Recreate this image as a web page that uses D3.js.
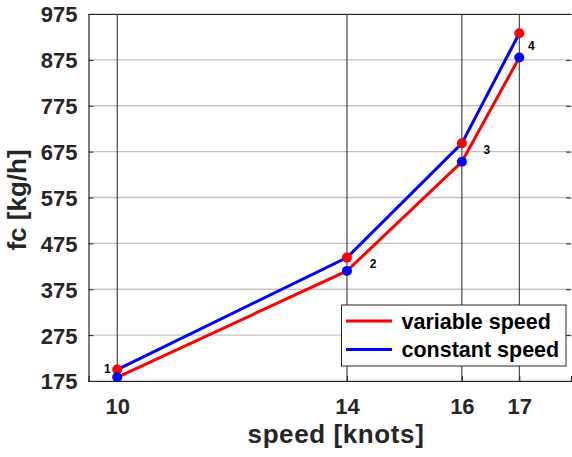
<!DOCTYPE html>
<html><head><meta charset="utf-8">
<script src="https://cdn.jsdelivr.net/npm/d3@7"></script>
<style>body{margin:0;background:#fff}svg{display:block}</style>
</head><body>
<script>
const speeds = [10, 14, 16, 17];
const xTicks = [10, 14, 16, 17];
const yTicks = [175, 275, 375, 475, 575, 675, 775, 875, 975];
// line values
const variableSpeed = [183, 415, 653, 880];
const constantSpeed = [200, 444, 693, 933];
// marker values
const redMarkers = [200, 444, 693, 933];
const blueMarkers = [183, 415, 653, 880];
const pointLabels = ["1", "2", "3", "4"];

const W = 572, H = 457;
const m = {l: 88.5, t: 14, r: 571, b: 381};
const svg = d3.select("body").append("svg").attr("width", W).attr("height", H);
const x = d3.scaleLinear().domain([9.5, 17.9]).range([m.l, m.r]);
const y = d3.scaleLinear().domain([175, 975]).range([m.b, m.t]);
const font = "'Liberation Sans', Arial, sans-serif";

// horizontal grid
svg.append("g").selectAll("line").data(yTicks).join("line")
  .attr("x1", m.l).attr("x2", m.r).attr("y1", d => y(d)).attr("y2", d => y(d))
  .attr("stroke", "#c4c4c4").attr("stroke-width", 1.4);
// vertical lines
svg.append("g").selectAll("line").data(xTicks).join("line")
  .attr("x1", d => x(d)).attr("x2", d => x(d)).attr("y1", m.t).attr("y2", m.b)
  .attr("stroke", "#262626").attr("stroke-width", 1);

// axes
const yAxis = d3.axisLeft(y).tickValues(yTicks).tickSize(-5).tickPadding(11);
const gy = svg.append("g").attr("transform", `translate(${m.l},0)`).call(yAxis);
const yAxisR = d3.axisRight(y).tickValues(yTicks).tickSize(-5).tickFormat("");
const gyr = svg.append("g").attr("transform", `translate(${m.r},0)`).call(yAxisR);
const xAxis = d3.axisBottom(x).tickValues(xTicks).tickSize(-5).tickPadding(17);
const gx = svg.append("g").attr("transform", `translate(0,${m.b})`).call(xAxis);
const xAxisT = d3.axisTop(x).tickValues(xTicks).tickSize(0).tickFormat("");
const gxt = svg.append("g").attr("transform", `translate(0,${m.t})`).call(xAxisT);
[gy, gyr, gx, gxt].forEach(g => {
  g.select(".domain").attr("stroke", "#262626").attr("stroke-width", 1.2);
  g.selectAll(".tick line").attr("stroke", "#262626");
  g.selectAll("text").attr("font-family", font).attr("font-weight", "bold")
    .attr("font-size", 22).attr("fill", "#262626");
});
gyr.select(".domain").remove();
gy.selectAll("text").attr("dy", "0.36em");
gx.selectAll("text").attr("dy", "0.72em");

// lines
const line = d3.line().x((d, i) => x(speeds[i])).y(d => y(d));
svg.append("path").datum(variableSpeed).attr("d", line)
  .attr("fill", "none").attr("stroke", "#ff0000").attr("stroke-width", 3);
svg.append("path").datum(constantSpeed).attr("d", line)
  .attr("fill", "none").attr("stroke", "#0000ff").attr("stroke-width", 3);

// markers
svg.append("g").selectAll("circle").data(redMarkers).join("circle")
  .attr("cx", (d, i) => x(speeds[i])).attr("cy", d => y(d)).attr("r", 5).attr("fill", "#ff0000");
svg.append("g").selectAll("circle").data(blueMarkers).join("circle")
  .attr("cx", (d, i) => x(speeds[i])).attr("cy", d => y(d)).attr("r", 5).attr("fill", "#0000ff");

// point labels (offsets relative to the lower marker, except the first)
const labOff = [[-10, -1], [26, -7.5], [25, -12], [12, -12]];
svg.append("g").selectAll("text").data(pointLabels).join("text")
  .attr("x", (d, i) => x(speeds[i]) + labOff[i][0])
  .attr("y", (d, i) => y(i === 0 ? redMarkers[i] : blueMarkers[i]) + labOff[i][1])
  .attr("text-anchor", "middle").attr("dy", "0.36em")
  .attr("font-family", font).attr("font-weight", "bold").attr("font-size", 12)
  .attr("fill", "#000").text(d => d);

// axis titles
svg.append("text").attr("x", 336).attr("y", 443)
  .attr("text-anchor", "middle").attr("font-family", font).attr("font-weight", "bold")
  .attr("font-size", 26).attr("letter-spacing", 0.6).attr("fill", "#262626").text("speed [knots]");
svg.append("text").attr("transform", `translate(26,200) rotate(-90)`)
  .attr("text-anchor", "middle").attr("font-family", font).attr("font-weight", "bold")
  .attr("font-size", 26).attr("fill", "#262626").text("fc [kg/h]");

// legend
const lg = svg.append("g");
lg.append("rect").attr("x", 341.5).attr("y", 305).attr("width", 224.5).attr("height", 61)
  .attr("fill", "#fff").attr("stroke", "#262626").attr("stroke-width", 1);
const legItems = [["variable speed", "#ff0000", 321], ["constant speed", "#0000ff", 349.5]];
legItems.forEach(([t, c, yy]) => {
  lg.append("line").attr("x1", 346).attr("x2", 392).attr("y1", yy).attr("y2", yy)
    .attr("stroke", c).attr("stroke-width", 3);
  lg.append("text").attr("x", 401.5).attr("y", yy).attr("dy", "0.36em")
    .attr("font-family", font).attr("font-weight", "bold").attr("font-size", 21.5)
    .attr("fill", "#000").text(t);
});
</script>
</body></html>
